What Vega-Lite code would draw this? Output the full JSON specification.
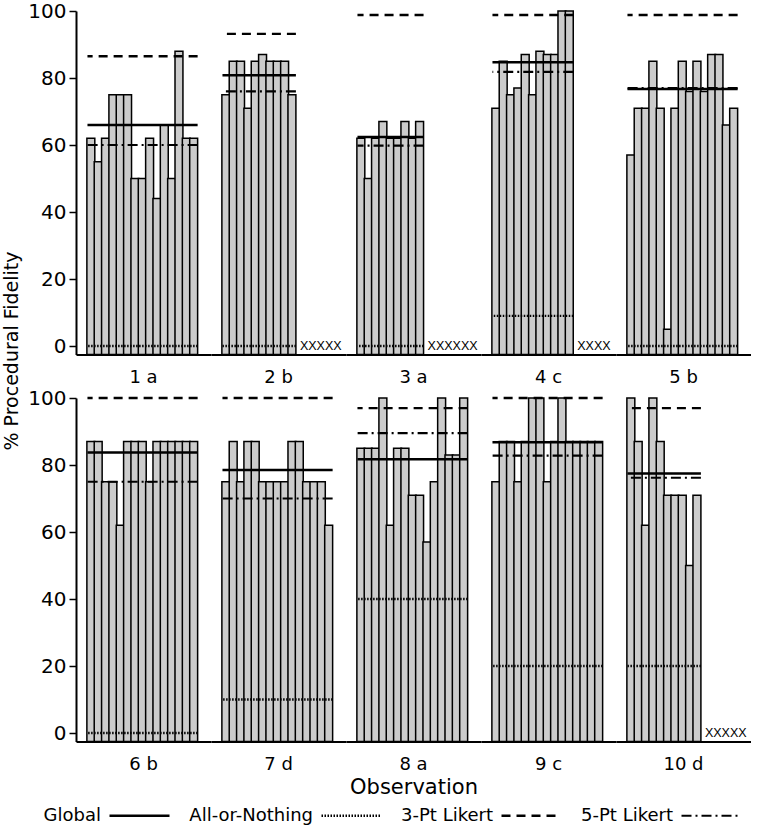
{
  "$schema": "https://vega.github.io/schema/vega-lite/v6.json",
  "padding": {"top": 1, "left": 2, "right": 0, "bottom": 0},
  "background": "white",
  "title": {
    "text": "% Procedural Fidelity",
    "orient": "left",
    "anchor": "middle",
    "font": "DejaVu Sans",
    "fontSize": 19,
    "fontWeight": "normal",
    "color": "black",
    "offset": 6,
    "dx": 62
  },
  "data": {
    "values": [
      {"kind": "bar", "obs": "1 a", "slot": 1, "value": 62},
      {"kind": "bar", "obs": "1 a", "slot": 2, "value": 55},
      {"kind": "bar", "obs": "1 a", "slot": 3, "value": 62},
      {"kind": "bar", "obs": "1 a", "slot": 4, "value": 75},
      {"kind": "bar", "obs": "1 a", "slot": 5, "value": 75},
      {"kind": "bar", "obs": "1 a", "slot": 6, "value": 75},
      {"kind": "bar", "obs": "1 a", "slot": 7, "value": 50},
      {"kind": "bar", "obs": "1 a", "slot": 8, "value": 50},
      {"kind": "bar", "obs": "1 a", "slot": 9, "value": 62},
      {"kind": "bar", "obs": "1 a", "slot": 10, "value": 44},
      {"kind": "bar", "obs": "1 a", "slot": 11, "value": 66},
      {"kind": "bar", "obs": "1 a", "slot": 12, "value": 50},
      {"kind": "bar", "obs": "1 a", "slot": 13, "value": 88},
      {"kind": "bar", "obs": "1 a", "slot": 14, "value": 62},
      {"kind": "bar", "obs": "1 a", "slot": 15, "value": 62},
      {"kind": "bar", "obs": "2 b", "slot": 1, "value": 75},
      {"kind": "bar", "obs": "2 b", "slot": 2, "value": 85},
      {"kind": "bar", "obs": "2 b", "slot": 3, "value": 85},
      {"kind": "bar", "obs": "2 b", "slot": 4, "value": 71},
      {"kind": "bar", "obs": "2 b", "slot": 5, "value": 85},
      {"kind": "bar", "obs": "2 b", "slot": 6, "value": 87},
      {"kind": "bar", "obs": "2 b", "slot": 7, "value": 85},
      {"kind": "bar", "obs": "2 b", "slot": 8, "value": 85},
      {"kind": "bar", "obs": "2 b", "slot": 9, "value": 85},
      {"kind": "bar", "obs": "2 b", "slot": 10, "value": 75},
      {"kind": "bar", "obs": "3 a", "slot": 1, "value": 62},
      {"kind": "bar", "obs": "3 a", "slot": 2, "value": 50},
      {"kind": "bar", "obs": "3 a", "slot": 3, "value": 62},
      {"kind": "bar", "obs": "3 a", "slot": 4, "value": 67},
      {"kind": "bar", "obs": "3 a", "slot": 5, "value": 62},
      {"kind": "bar", "obs": "3 a", "slot": 6, "value": 62},
      {"kind": "bar", "obs": "3 a", "slot": 7, "value": 67},
      {"kind": "bar", "obs": "3 a", "slot": 8, "value": 62},
      {"kind": "bar", "obs": "3 a", "slot": 9, "value": 67},
      {"kind": "bar", "obs": "4 c", "slot": 1, "value": 71},
      {"kind": "bar", "obs": "4 c", "slot": 2, "value": 85},
      {"kind": "bar", "obs": "4 c", "slot": 3, "value": 75},
      {"kind": "bar", "obs": "4 c", "slot": 4, "value": 77},
      {"kind": "bar", "obs": "4 c", "slot": 5, "value": 87},
      {"kind": "bar", "obs": "4 c", "slot": 6, "value": 75},
      {"kind": "bar", "obs": "4 c", "slot": 7, "value": 88},
      {"kind": "bar", "obs": "4 c", "slot": 8, "value": 87},
      {"kind": "bar", "obs": "4 c", "slot": 9, "value": 87},
      {"kind": "bar", "obs": "4 c", "slot": 10, "value": 100},
      {"kind": "bar", "obs": "4 c", "slot": 11, "value": 100},
      {"kind": "bar", "obs": "5 b", "slot": 1, "value": 57},
      {"kind": "bar", "obs": "5 b", "slot": 2, "value": 71},
      {"kind": "bar", "obs": "5 b", "slot": 3, "value": 71},
      {"kind": "bar", "obs": "5 b", "slot": 4, "value": 85},
      {"kind": "bar", "obs": "5 b", "slot": 5, "value": 71},
      {"kind": "bar", "obs": "5 b", "slot": 6, "value": 5},
      {"kind": "bar", "obs": "5 b", "slot": 7, "value": 71},
      {"kind": "bar", "obs": "5 b", "slot": 8, "value": 85},
      {"kind": "bar", "obs": "5 b", "slot": 9, "value": 76},
      {"kind": "bar", "obs": "5 b", "slot": 10, "value": 85},
      {"kind": "bar", "obs": "5 b", "slot": 11, "value": 76},
      {"kind": "bar", "obs": "5 b", "slot": 12, "value": 87},
      {"kind": "bar", "obs": "5 b", "slot": 13, "value": 87},
      {"kind": "bar", "obs": "5 b", "slot": 14, "value": 66},
      {"kind": "bar", "obs": "5 b", "slot": 15, "value": 71},
      {"kind": "bar", "obs": "6 b", "slot": 1, "value": 87},
      {"kind": "bar", "obs": "6 b", "slot": 2, "value": 87},
      {"kind": "bar", "obs": "6 b", "slot": 3, "value": 75},
      {"kind": "bar", "obs": "6 b", "slot": 4, "value": 75},
      {"kind": "bar", "obs": "6 b", "slot": 5, "value": 62},
      {"kind": "bar", "obs": "6 b", "slot": 6, "value": 87},
      {"kind": "bar", "obs": "6 b", "slot": 7, "value": 87},
      {"kind": "bar", "obs": "6 b", "slot": 8, "value": 87},
      {"kind": "bar", "obs": "6 b", "slot": 9, "value": 75},
      {"kind": "bar", "obs": "6 b", "slot": 10, "value": 87},
      {"kind": "bar", "obs": "6 b", "slot": 11, "value": 87},
      {"kind": "bar", "obs": "6 b", "slot": 12, "value": 87},
      {"kind": "bar", "obs": "6 b", "slot": 13, "value": 87},
      {"kind": "bar", "obs": "6 b", "slot": 14, "value": 87},
      {"kind": "bar", "obs": "6 b", "slot": 15, "value": 87},
      {"kind": "bar", "obs": "7 d", "slot": 1, "value": 75},
      {"kind": "bar", "obs": "7 d", "slot": 2, "value": 87},
      {"kind": "bar", "obs": "7 d", "slot": 3, "value": 75},
      {"kind": "bar", "obs": "7 d", "slot": 4, "value": 87},
      {"kind": "bar", "obs": "7 d", "slot": 5, "value": 87},
      {"kind": "bar", "obs": "7 d", "slot": 6, "value": 75},
      {"kind": "bar", "obs": "7 d", "slot": 7, "value": 75},
      {"kind": "bar", "obs": "7 d", "slot": 8, "value": 75},
      {"kind": "bar", "obs": "7 d", "slot": 9, "value": 75},
      {"kind": "bar", "obs": "7 d", "slot": 10, "value": 87},
      {"kind": "bar", "obs": "7 d", "slot": 11, "value": 87},
      {"kind": "bar", "obs": "7 d", "slot": 12, "value": 75},
      {"kind": "bar", "obs": "7 d", "slot": 13, "value": 75},
      {"kind": "bar", "obs": "7 d", "slot": 14, "value": 75},
      {"kind": "bar", "obs": "7 d", "slot": 15, "value": 62},
      {"kind": "bar", "obs": "8 a", "slot": 1, "value": 85},
      {"kind": "bar", "obs": "8 a", "slot": 2, "value": 85},
      {"kind": "bar", "obs": "8 a", "slot": 3, "value": 85},
      {"kind": "bar", "obs": "8 a", "slot": 4, "value": 100},
      {"kind": "bar", "obs": "8 a", "slot": 5, "value": 62},
      {"kind": "bar", "obs": "8 a", "slot": 6, "value": 85},
      {"kind": "bar", "obs": "8 a", "slot": 7, "value": 85},
      {"kind": "bar", "obs": "8 a", "slot": 8, "value": 71},
      {"kind": "bar", "obs": "8 a", "slot": 9, "value": 71},
      {"kind": "bar", "obs": "8 a", "slot": 10, "value": 57},
      {"kind": "bar", "obs": "8 a", "slot": 11, "value": 75},
      {"kind": "bar", "obs": "8 a", "slot": 12, "value": 100},
      {"kind": "bar", "obs": "8 a", "slot": 13, "value": 83},
      {"kind": "bar", "obs": "8 a", "slot": 14, "value": 83},
      {"kind": "bar", "obs": "8 a", "slot": 15, "value": 100},
      {"kind": "bar", "obs": "9 c", "slot": 1, "value": 75},
      {"kind": "bar", "obs": "9 c", "slot": 2, "value": 87},
      {"kind": "bar", "obs": "9 c", "slot": 3, "value": 87},
      {"kind": "bar", "obs": "9 c", "slot": 4, "value": 75},
      {"kind": "bar", "obs": "9 c", "slot": 5, "value": 87},
      {"kind": "bar", "obs": "9 c", "slot": 6, "value": 100},
      {"kind": "bar", "obs": "9 c", "slot": 7, "value": 100},
      {"kind": "bar", "obs": "9 c", "slot": 8, "value": 75},
      {"kind": "bar", "obs": "9 c", "slot": 9, "value": 87},
      {"kind": "bar", "obs": "9 c", "slot": 10, "value": 100},
      {"kind": "bar", "obs": "9 c", "slot": 11, "value": 87},
      {"kind": "bar", "obs": "9 c", "slot": 12, "value": 87},
      {"kind": "bar", "obs": "9 c", "slot": 13, "value": 87},
      {"kind": "bar", "obs": "9 c", "slot": 14, "value": 87},
      {"kind": "bar", "obs": "9 c", "slot": 15, "value": 87},
      {"kind": "bar", "obs": "10 d", "slot": 1, "value": 100},
      {"kind": "bar", "obs": "10 d", "slot": 2, "value": 87},
      {"kind": "bar", "obs": "10 d", "slot": 3, "value": 62},
      {"kind": "bar", "obs": "10 d", "slot": 4, "value": 100},
      {"kind": "bar", "obs": "10 d", "slot": 5, "value": 87},
      {"kind": "bar", "obs": "10 d", "slot": 6, "value": 71},
      {"kind": "bar", "obs": "10 d", "slot": 7, "value": 71},
      {"kind": "bar", "obs": "10 d", "slot": 8, "value": 71},
      {"kind": "bar", "obs": "10 d", "slot": 9, "value": 50},
      {"kind": "bar", "obs": "10 d", "slot": 10, "value": 71},

      {"kind": "line", "obs": "1 a", "n": 15, "method": "Global", "value": 66},
      {"kind": "line", "obs": "1 a", "n": 15, "method": "All-or-Nothing", "value": 0},
      {"kind": "line", "obs": "1 a", "n": 15, "method": "3-Pt Likert", "value": 86.5},
      {"kind": "line", "obs": "1 a", "n": 15, "method": "5-Pt Likert", "value": 60},
      {"kind": "line", "obs": "2 b", "n": 10, "method": "Global", "value": 80.8},
      {"kind": "line", "obs": "2 b", "n": 10, "method": "All-or-Nothing", "value": 0},
      {"kind": "line", "obs": "2 b", "n": 10, "method": "3-Pt Likert", "value": 93.2},
      {"kind": "line", "obs": "2 b", "n": 10, "method": "5-Pt Likert", "value": 76},
      {"kind": "line", "obs": "3 a", "n": 9, "method": "Global", "value": 62.4},
      {"kind": "line", "obs": "3 a", "n": 9, "method": "All-or-Nothing", "value": 0},
      {"kind": "line", "obs": "3 a", "n": 9, "method": "3-Pt Likert", "value": 98.8},
      {"kind": "line", "obs": "3 a", "n": 9, "method": "5-Pt Likert", "value": 59.8},
      {"kind": "line", "obs": "4 c", "n": 11, "method": "Global", "value": 84.7},
      {"kind": "line", "obs": "4 c", "n": 11, "method": "All-or-Nothing", "value": 9},
      {"kind": "line", "obs": "4 c", "n": 11, "method": "3-Pt Likert", "value": 98.8},
      {"kind": "line", "obs": "4 c", "n": 11, "method": "5-Pt Likert", "value": 81.8},
      {"kind": "line", "obs": "5 b", "n": 15, "method": "Global", "value": 76.7},
      {"kind": "line", "obs": "5 b", "n": 15, "method": "All-or-Nothing", "value": 0},
      {"kind": "line", "obs": "5 b", "n": 15, "method": "3-Pt Likert", "value": 98.8},
      {"kind": "line", "obs": "5 b", "n": 15, "method": "5-Pt Likert", "value": 77},
      {"kind": "line", "obs": "6 b", "n": 15, "method": "Global", "value": 83.7},
      {"kind": "line", "obs": "6 b", "n": 15, "method": "All-or-Nothing", "value": 0},
      {"kind": "line", "obs": "6 b", "n": 15, "method": "3-Pt Likert", "value": 100},
      {"kind": "line", "obs": "6 b", "n": 15, "method": "5-Pt Likert", "value": 75},
      {"kind": "line", "obs": "7 d", "n": 15, "method": "Global", "value": 78.5},
      {"kind": "line", "obs": "7 d", "n": 15, "method": "All-or-Nothing", "value": 10},
      {"kind": "line", "obs": "7 d", "n": 15, "method": "3-Pt Likert", "value": 100},
      {"kind": "line", "obs": "7 d", "n": 15, "method": "5-Pt Likert", "value": 70},
      {"kind": "line", "obs": "8 a", "n": 15, "method": "Global", "value": 81.7},
      {"kind": "line", "obs": "8 a", "n": 15, "method": "All-or-Nothing", "value": 40},
      {"kind": "line", "obs": "8 a", "n": 15, "method": "3-Pt Likert", "value": 97},
      {"kind": "line", "obs": "8 a", "n": 15, "method": "5-Pt Likert", "value": 89.5},
      {"kind": "line", "obs": "9 c", "n": 15, "method": "Global", "value": 86.8},
      {"kind": "line", "obs": "9 c", "n": 15, "method": "All-or-Nothing", "value": 20},
      {"kind": "line", "obs": "9 c", "n": 15, "method": "3-Pt Likert", "value": 100},
      {"kind": "line", "obs": "9 c", "n": 15, "method": "5-Pt Likert", "value": 82.8},
      {"kind": "line", "obs": "10 d", "n": 10, "method": "Global", "value": 77.5},
      {"kind": "line", "obs": "10 d", "n": 10, "method": "All-or-Nothing", "value": 20},
      {"kind": "line", "obs": "10 d", "n": 10, "method": "3-Pt Likert", "value": 97},
      {"kind": "line", "obs": "10 d", "n": 10, "method": "5-Pt Likert", "value": 76.2},

      {"kind": "missing", "obs": "2 b", "n": 10, "value": 0, "label": "XXXXX"},
      {"kind": "missing", "obs": "3 a", "n": 9, "value": 0, "label": "XXXXXX"},
      {"kind": "missing", "obs": "4 c", "n": 11, "value": 0, "label": "XXXX"},
      {"kind": "missing", "obs": "10 d", "n": 10, "value": 0, "label": "XXXXX"}
    ]
  },
  "facet": {
    "field": "obs",
    "type": "ordinal",
    "sort": ["1 a", "2 b", "3 a", "4 c", "5 b", "6 b", "7 d", "8 a", "9 c", "10 d"],
    "header": {
      "title": "Observation",
      "titleOrient": "bottom",
      "labelOrient": "bottom",
      "labelFont": "DejaVu Sans",
      "labelFontSize": 18,
      "labelColor": "black",
      "labelPadding": 14,
      "titleFont": "DejaVu Sans",
      "titleFontSize": 21,
      "titleFontWeight": "normal",
      "titleColor": "black",
      "titlePadding": 2
    }
  },
  "columns": 5,
  "spacing": {"row": 8, "column": 0},
  "resolve": {"axis": {"x": "independent"}},
  "spec": {
    "width": 135,
    "height": 343.4,
    "layer": [
      {
        "transform": [{"filter": "datum.kind === 'bar'"}],
        "mark": {"type": "bar", "fill": "#cccccc", "stroke": "black", "strokeWidth": 1.5, "width": 7.932, "xOffset": -3.966},
        "encoding": {
          "x": {
            "field": "slot",
            "type": "quantitative",
            "scale": {"domain": [-0.88, 16.14], "nice": false, "zero": false},
            "axis": {"labels": false, "ticks": false, "title": null, "domain": true, "domainWidth": 2, "domainColor": "black", "grid": false}
          },
          "y": {
            "field": "value",
            "type": "quantitative",
            "scale": {"domain": [-2.5, 100], "nice": false, "zero": false},
            "axis": {
              "values": [0, 20, 40, 60, 80, 100],
              "title": null,
              "grid": false,
              "tickSize": 7,
              "tickWidth": 1.5,
              "tickColor": "black",
              "domainWidth": 2,
              "domainColor": "black",
              "labelFont": "DejaVu Sans",
              "labelFontSize": 20,
              "labelColor": "black",
              "labelPadding": 3
            }
          },
          "y2": {"datum": -2.5}
        }
      },
      {
        "transform": [{"filter": "datum.kind === 'line'"}],
        "mark": {"type": "rule", "color": "black"},
        "encoding": {
          "x": {"field": "n", "type": "quantitative"},
          "x2": {"datum": 0},
          "y": {"field": "value", "type": "quantitative"},
          "strokeWidth": {
            "field": "method",
            "type": "nominal",
            "scale": {
              "domain": ["Global", "All-or-Nothing", "3-Pt Likert", "5-Pt Likert"],
              "range": [2.5, 2.2, 3.2, 3.2]
            },
            "legend": null
          },
          "strokeDash": {
            "field": "method",
            "type": "nominal",
            "scale": {
              "domain": ["Global", "All-or-Nothing", "3-Pt Likert", "5-Pt Likert"],
              "range": [[1, 0], [1.5, 1.5], [9, 6], [10, 4, 2, 4]]
            },
            "legend": {
              "title": " ",
              "titleOrient": "left",
              "titleFontSize": 18,
              "titlePadding": 32,
              "orient": "bottom",
              "direction": "horizontal",
              "symbolType": "stroke",
              "symbolSize": 3600,
              "symbolStrokeWidth": 2.5,
              "symbolStrokeColor": "black",
              "labelFont": "DejaVu Sans",
              "labelFontSize": 18,
              "labelColor": "black",
              "labelAlign": "right",
              "labelOffset": -70,
              "columnPadding": 14,
              "offset": -14
            }
          }
        }
      },
      {
        "transform": [{"filter": "datum.kind === 'missing'"}],
        "mark": {"type": "text", "align": "left", "baseline": "middle", "font": "Liberation Sans", "fontSize": 12.5, "color": "black", "dx": 4},
        "encoding": {
          "x": {"field": "n", "type": "quantitative"},
          "y": {"field": "value", "type": "quantitative"},
          "text": {"field": "label"}
        }
      }
    ]
  },
  "config": {
    "view": {"stroke": null}
  }
}
